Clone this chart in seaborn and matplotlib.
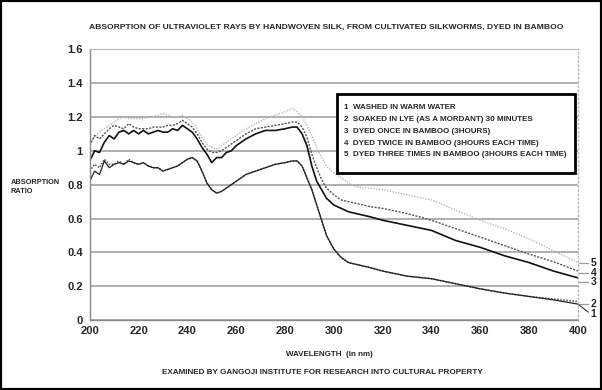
import matplotlib
matplotlib.use("Agg")
import matplotlib.pyplot as plt
from matplotlib.patches import Rectangle
import seaborn as sns

# wavelength grid (nm)
wavelength = [200, 202, 204, 206, 208, 210, 212, 214, 216, 218, 220, 222, 224, 226, 228,
              230, 232, 234, 236, 238, 240, 242, 244, 246, 248, 250, 252, 254, 256, 258,
              260, 264, 268, 272, 276, 280, 283, 285, 287, 289, 291, 293, 295, 297, 300,
              303, 306, 309, 312, 315, 320, 330, 340, 350, 360, 370, 380, 390, 400]

washed = [0.82, 0.88, 0.86, 0.94, 0.90, 0.92, 0.93, 0.92, 0.94, 0.93, 0.92, 0.93, 0.91, 0.90, 0.90,
          0.88, 0.89, 0.90, 0.91, 0.93, 0.95, 0.96, 0.94, 0.88, 0.81, 0.77, 0.75, 0.76, 0.78, 0.80,
          0.82, 0.86, 0.88, 0.90, 0.92, 0.93, 0.94, 0.94, 0.91, 0.84, 0.77, 0.68, 0.59, 0.50, 0.42,
          0.37, 0.34, 0.33, 0.32, 0.31, 0.29, 0.26, 0.245, 0.215, 0.185, 0.16, 0.14, 0.12, 0.095]

lye = [0.88, 0.92, 0.90, 0.95, 0.92, 0.92, 0.94, 0.92, 0.95, 0.93, 0.92, 0.93, 0.91, 0.90, 0.90,
       0.88, 0.89, 0.90, 0.91, 0.93, 0.95, 0.96, 0.94, 0.88, 0.81, 0.77, 0.75, 0.76, 0.78, 0.80,
       0.82, 0.86, 0.88, 0.90, 0.92, 0.93, 0.94, 0.94, 0.91, 0.84, 0.77, 0.68, 0.59, 0.50, 0.42,
       0.37, 0.34, 0.33, 0.32, 0.31, 0.29, 0.26, 0.245, 0.215, 0.185, 0.16, 0.14, 0.125, 0.11]

dyed_once = [0.94, 1.00, 0.99, 1.05, 1.09, 1.07, 1.11, 1.12, 1.10, 1.12, 1.10, 1.12, 1.10, 1.11, 1.12,
             1.11, 1.11, 1.13, 1.12, 1.15, 1.13, 1.11, 1.07, 1.02, 0.98, 0.93, 0.96, 0.96, 0.99, 1.00,
             1.03, 1.07, 1.10, 1.12, 1.12, 1.13, 1.14, 1.14, 1.10, 1.03, 0.91, 0.82, 0.77, 0.72, 0.68,
             0.66, 0.64, 0.63, 0.62, 0.61, 0.59, 0.56, 0.53, 0.47, 0.43, 0.38, 0.34, 0.29, 0.25]

dyed_twice = [1.03, 1.09, 1.07, 1.10, 1.13, 1.15, 1.14, 1.13, 1.16, 1.14, 1.13, 1.13, 1.13, 1.14, 1.14,
              1.14, 1.15, 1.15, 1.16, 1.18, 1.16, 1.14, 1.10, 1.05, 1.01, 0.99, 0.99, 1.00, 1.02, 1.04,
              1.06, 1.10, 1.13, 1.14, 1.15, 1.16, 1.17, 1.17, 1.14, 1.08, 0.98, 0.90, 0.83, 0.78, 0.74,
              0.71, 0.70, 0.69, 0.68, 0.67, 0.66, 0.63, 0.59, 0.54, 0.49, 0.44, 0.39, 0.345, 0.29]

dyed_three = [1.05, 1.08, 1.11, 1.13, 1.15, 1.17, 1.19, 1.20, 1.19, 1.19, 1.19, 1.19, 1.20, 1.20, 1.21,
              1.22, 1.21, 1.20, 1.20, 1.21, 1.19, 1.17, 1.13, 1.08, 1.04, 1.02, 1.01, 1.03, 1.05, 1.07,
              1.09, 1.13, 1.16, 1.19, 1.21, 1.23, 1.25, 1.23, 1.20, 1.15, 1.09, 1.02, 0.96, 0.91, 0.87,
              0.84, 0.81, 0.79, 0.78, 0.78, 0.77, 0.74, 0.71, 0.65, 0.59, 0.54, 0.48, 0.41, 0.34]

legend_lines = ["1  WASHED IN WARM WATER",
                "2  SOAKED IN LYE (AS A MORDANT) 30 MINUTES",
                "3  DYED ONCE IN BAMBOO (3HOURS)",
                "4  DYED TWICE IN BAMBOO (3HOURS EACH TIME)",
                "5  DYED THREE TIMES IN BAMBOO (3HOURS EACH TIME)"]
end_labels = ["5", "4", "3", "2", "1"]
end_label_y = [0.335, 0.28, 0.225, 0.097, 0.037]

sns.set_style("white")
plt.rcParams["font.family"] = ["Liberation Sans", "DejaVu Sans"]
plt.rcParams["font.weight"] = "bold"

fig = plt.figure(figsize=(6.02, 3.9), dpi=100)
ax = fig.add_axes([0.149, 0.179, 0.811, 0.695])

sns.lineplot(x=wavelength, y=dyed_three, ax=ax, color="#b8b8b8", lw=1.0, linestyle=(0, (1, 1)))
sns.lineplot(x=wavelength, y=dyed_twice, ax=ax, color="#555555", lw=1.0, linestyle=(0, (1.5, 1)))
sns.lineplot(x=wavelength, y=dyed_once, ax=ax, color="#111111", lw=1.2)
sns.lineplot(x=wavelength, y=lye, ax=ax, color="#555555", lw=1.1, linestyle=(0, (1, 1)))
sns.lineplot(x=wavelength, y=washed, ax=ax, color="#222222", lw=0.9)

ax.set_xlim(200, 400)
ax.set_ylim(0, 1.6)
ax.set_xticks(range(200, 401, 20))
ax.set_xticks(range(210, 400, 20), minor=True)
ax.set_yticks([0, 0.2, 0.4, 0.6, 0.8, 1.0, 1.2, 1.4, 1.6])
ax.set_yticklabels(["0", "0.2", "0.4", "0.6", "0.8", "1", "1.2", "1.4", "1.6"])
ax.tick_params(axis="x", which="both", direction="in", length=3, color="#777777",
               labelsize=8, pad=4)
ax.tick_params(axis="y", length=0, labelsize=8, pad=5)
for lab in ax.get_xticklabels() + ax.get_yticklabels():
    lab.set_fontweight("bold")

ax.yaxis.grid(True, color="#9a9a9a", lw=1.1)
ax.set_axisbelow(True)
ax.spines["top"].set(color="#bbbbbb", linestyle=(0, (1, 2)), lw=1)
ax.spines["right"].set(color="#bbbbbb", linestyle=(0, (1, 2)), lw=1)
ax.spines["left"].set(color="#888888", linestyle=(0, (2, 1)), lw=1)
ax.spines["bottom"].set(color="#888888", lw=1)

# numbered labels at the right end of the curves
curve_end = {"5": 0.34, "4": 0.29, "3": 0.25, "2": 0.11, "1": 0.095}
for lab, yl in zip(end_labels, end_label_y):
    if lab == "1":
        ax.plot([400, 404.3], [curve_end[lab], yl + 0.01], color="#333333", lw=0.8, clip_on=False)
    else:
        ax.plot([400.5, 404.3], [yl, yl], color="#999999", lw=0.9, clip_on=False)
    ax.text(405.2, yl, lab, fontsize=7.5, fontweight="bold", va="center", ha="left")

fig.text(0.542, 0.931, "ABSORPTION OF ULTRAVIOLET RAYS BY HANDWOVEN SILK, FROM CULTIVATED SILKWORMS, DYED IN BAMBOO",
         ha="center", va="center", fontsize=6.1, fontweight="bold")
fig.text(0.018, 0.531, "ABSORPTION", ha="left", va="center", fontsize=5.3, fontweight="bold")
fig.text(0.018, 0.510, "RATIO", ha="left", va="center", fontsize=5.3, fontweight="bold")
fig.text(0.547, 0.090, "WAVELENGTH  (in nm)", ha="center", va="center", fontsize=5.8, fontweight="bold")
fig.text(0.535, 0.045, "EXAMINED BY GANGOJI INSTITUTE FOR RESEARCH INTO CULTURAL PROPERTY",
         ha="center", va="center", fontsize=5.9, fontweight="bold")

# legend box
fig.add_artist(Rectangle((337 / 602, 1 - 172.5 / 390), 238 / 602, 79 / 390,
                         transform=fig.transFigure, fill=True, fc="white", ec="black", lw=2))
for i, line in enumerate(legend_lines):
    fig.text(343.5 / 602, 1 - (107.7 + 11.8 * i) / 390, line, ha="left", va="center",
             fontsize=5.75, fontweight="bold")

# outer frame
fig.add_artist(Rectangle((0, 0), 1, 1, transform=fig.transFigure, fill=False, ec="black", lw=3))

fig.savefig("out.png", dpi=100)
